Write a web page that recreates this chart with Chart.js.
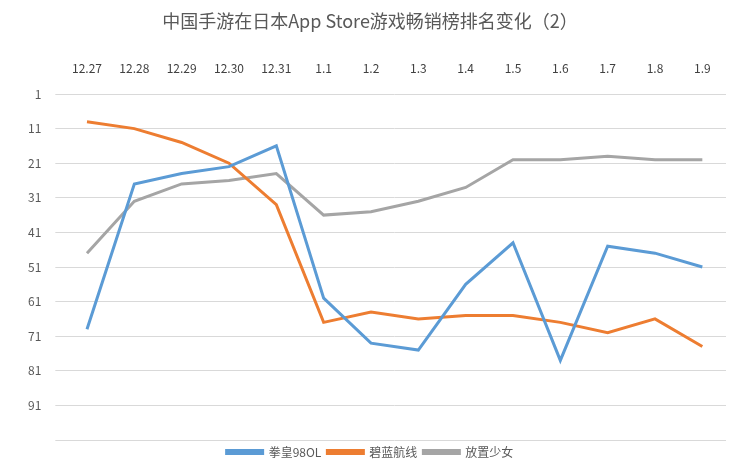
<!DOCTYPE html>
<html>
<head>
<meta charset="utf-8">
<script src="https://cdn.jsdelivr.net/npm/chart.js@4"></script>
<style>
body { margin: 0; background: #fff; }
#wrap { width: 746px; height: 476px; }
</style>
</head>
<body>
<div id="wrap"><canvas id="js--chart"></canvas></div>
<script>
const dates = ["12.27", "12.28", "12.29", "12.30", "12.31", "1.1", "1.2", "1.3", "1.4", "1.5", "1.6", "1.7", "1.8", "1.9"];
const kof98 = [69, 27, 24, 22, 16, 60, 73, 75, 56, 44, 78, 45, 47, 51];
const azurLane = [9, 11, 15, 21, 33, 67, 64, 66, 65, 65, 67, 70, 66, 74];
const houchi = [47, 32, 27, 26, 24, 36, 35, 32, 28, 20, 20, 19, 20, 20];
const rankTicks = [1, 11, 21, 31, 41, 51, 61, 71, 81, 91];

const font = "'Noto Sans CJK SC', 'Noto Sans', sans-serif";

const myChart = new Chart(document.getElementById("js--chart"), {
    type: 'line',
    data: {
        labels: dates,
        datasets: [
            { label: "拳皇98OL", data: kof98, borderColor: '#5b9bd5', backgroundColor: '#5b9bd5' },
            { label: "碧蓝航线", data: azurLane, borderColor: '#ed7d31', backgroundColor: '#ed7d31' },
            { label: "放置少女", data: houchi, borderColor: '#a5a5a5', backgroundColor: '#a5a5a5' }
        ]
    },
    options: {
        responsive: true,
        maintainAspectRatio: false,
        animation: false,
        elements: {
            line: { borderWidth: 3, tension: 0 },
            point: { radius: 0 }
        },
        layout: { padding: { left: 14, right: 20, top: 6, bottom: 8 } },
        plugins: {
            title: {
                display: true,
                text: "中国手游在日本App Store游戏畅销榜排名变化（2）",
                color: '#595959',
                font: { family: font, size: 18, weight: 'normal' },
                padding: { top: 4, bottom: 20 }
            },
            legend: {
                position: 'bottom',
                labels: {
                    color: '#595959',
                    font: { family: font, size: 12 },
                    boxWidth: 36,
                    boxHeight: 3,
                    padding: 6
                }
            }
        },
        scales: {
            x: {
                position: 'top',
                offset: true,
                grid: { display: false },
                border: { display: false },
                ticks: { color: '#404040', font: { family: font, size: 12 }, maxRotation: 0, padding: 10 }
            },
            y: {
                reverse: true,
                min: 1,
                max: 101,
                afterBuildTicks: function(axis) {
                    axis.ticks = rankTicks.concat([101]).map(function(v) { return { value: v }; });
                },
                grid: { color: '#d9d9d9' },
                border: { display: false },
                ticks: {
                    color: '#595959',
                    font: { family: font, size: 12 },
                    padding: 14,
                    callback: function(v) { return v === 101 ? '' : v; }
                }
            }
        }
    }
});
</script>
</body>
</html>
